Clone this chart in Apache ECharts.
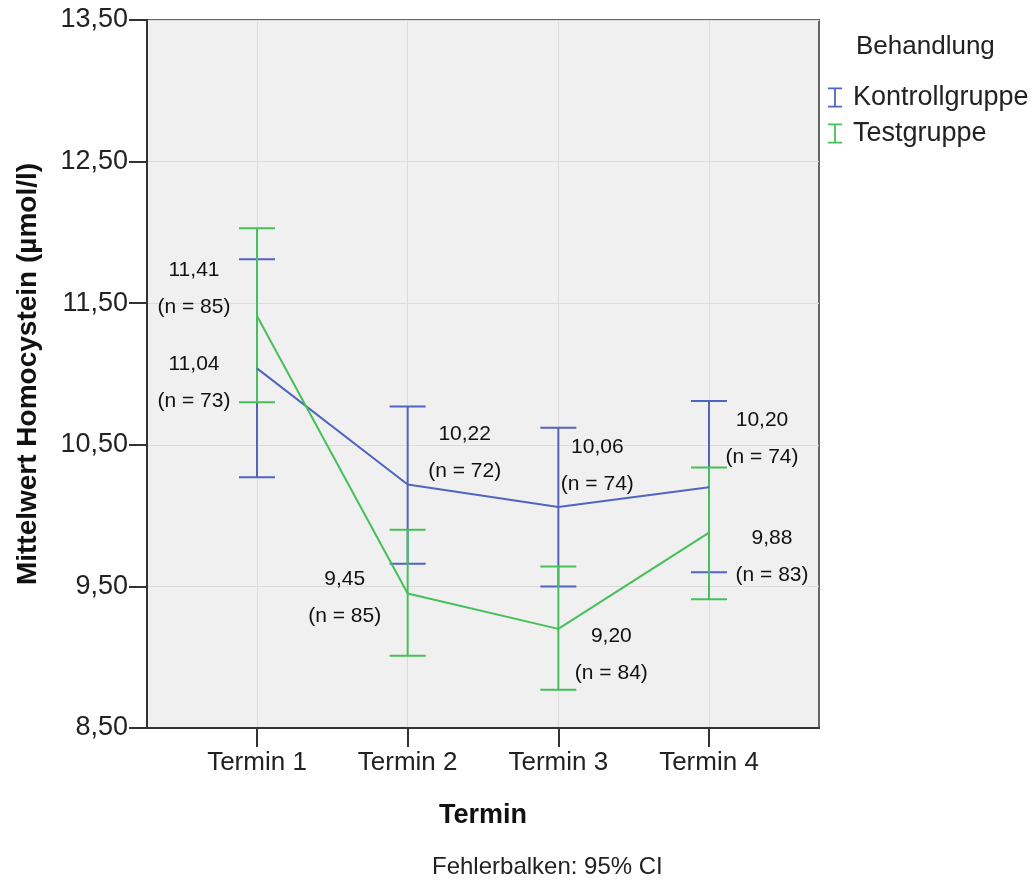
<!DOCTYPE html>
<html>
<head>
<meta charset="utf-8">
<script src="https://cdn.jsdelivr.net/npm/echarts@6/dist/echarts.min.js"></script>
<style>
  html, body { margin: 0; padding: 0; background: #ffffff; }
  #chart { width: 1035px; height: 881px; }
</style>
</head>
<body>
<div id="chart"></div>
<script>
const categories = ['Termin 1', 'Termin 2', 'Termin 3', 'Termin 4']
const categoryPos = [1, 2, 3, 4]

// Mittelwerte und 95%-KI
const kontrollMean = [11.04, 10.22, 10.06, 10.20]
const kontrollLow = [10.27, 9.66, 9.50, 9.60]
const kontrollHigh = [11.81, 10.77, 10.62, 10.81]
const kontrollN = [73, 72, 74, 74]

const testMean = [11.41, 9.45, 9.20, 9.88]
const testLow = [10.80, 9.01, 8.77, 9.41]
const testHigh = [12.03, 9.90, 9.64, 10.34]
const testN = [85, 85, 84, 83]

const yMin = 8.5
const yMax = 13.5
const yInterval = 1

// label placement relative to the mean point (px)
const kontrollLabelOffset = [[-63, 14], [57, -32], [39, -41], [53, -49]]
const testLabelOffset = [[-63, -27], [-63, 4], [53, 26], [63, 24]]

const BLUE = '#5065bd'
const GREEN = '#45c05a'
const FONT = '"Liberation Sans", Arial, sans-serif'
const barIcon = 'path://M0,0H14V1.8H0Z M6.1,0H7.9V20H6.1Z M0,18.2H14V20H0Z'

const fmt = v => v.toFixed(2).replace('.', ',')

function errorBarSeries(name, color, low, high) {
  return {
    name: name,
    type: 'custom',
    z: 3,
    color: color,
    itemStyle: { color: color },
    data: categoryPos.map((x, i) => [x, low[i], high[i]]),
    renderItem: function (params, api) {
      const top = api.coord([api.value(0), api.value(2)])
      const bottom = api.coord([api.value(0), api.value(1)])
      const half = 18
      const style = { stroke: color, lineWidth: 2 }
      return {
        type: 'group',
        children: [
          { type: 'line', shape: { x1: top[0], y1: top[1], x2: bottom[0], y2: bottom[1] }, style: style },
          { type: 'line', shape: { x1: top[0] - half, y1: top[1], x2: top[0] + half, y2: top[1] }, style: style },
          { type: 'line', shape: { x1: bottom[0] - half, y1: bottom[1], x2: bottom[0] + half, y2: bottom[1] }, style: style }
        ]
      }
    }
  }
}

function meanSeries(name, color, mean, n, offsets) {
  return {
    name: name,
    type: 'line',
    z: 4,
    color: color,
    symbol: 'circle',
    symbolSize: 1,
    lineStyle: { color: color, width: 2 },
    itemStyle: { color: color },
    data: categoryPos.map((x, i) => ({
      value: [x, mean[i]],
      label: { offset: offsets[i] }
    })),
    label: {
      show: true,
      position: 'inside',
      align: 'center',
      verticalAlign: 'middle',
      fontFamily: FONT,
      fontSize: 21,
      lineHeight: 37,
      color: '#111',
      formatter: p => fmt(mean[p.dataIndex]) + '\n(n = ' + n[p.dataIndex] + ')'
    },
    emphasis: { disabled: true }
  }
}

const chart = echarts.init(document.getElementById('chart'), null, { renderer: 'canvas' })

chart.setOption({
  animation: false,
  backgroundColor: '#ffffff',
  title: [
    {
      text: 'Behandlung',
      left: 856,
      top: 34,
      padding: 0,
      textStyle: { fontFamily: FONT, fontSize: 26, fontWeight: 'normal', color: '#222' }
    },
    {
      text: 'Fehlerbalken: 95% CI',
      left: 432,
      top: 855,
      padding: 0,
      textStyle: { fontFamily: FONT, fontSize: 24, fontWeight: 'normal', color: '#222' }
    }
  ],
  legend: {
    orient: 'vertical',
    left: 828,
    top: 84,
    padding: 0,
    itemWidth: 14,
    itemHeight: 20,
    itemGap: 9,
    selectedMode: false,
    itemStyle: { borderWidth: 0 },
    textStyle: { fontFamily: FONT, fontSize: 27, color: '#222', padding: [0, 0, 0, 6] },
    data: [
      { name: 'Kontrollgruppe', icon: barIcon, itemStyle: { color: BLUE } },
      { name: 'Testgruppe', icon: barIcon, itemStyle: { color: GREEN } }
    ]
  },
  grid: {
    left: 147,
    right: 216,
    top: 20,
    bottom: 153,
    show: true,
    backgroundColor: '#f0f0f0',
    borderColor: '#666',
    borderWidth: 2
  },
  xAxis: {
    type: 'value',
    min: 0.27,
    max: 4.73,
    name: 'Termin',
    nameLocation: 'middle',
    nameGap: 74,
    nameTextStyle: { fontFamily: FONT, fontSize: 27, fontWeight: 'bold', color: '#111' },
    axisLine: { show: true, lineStyle: { color: '#333', width: 2 } },
    axisTick: { show: true, customValues: categoryPos, length: 19, lineStyle: { color: '#333', width: 2 } },
    axisLabel: {
      customValues: categoryPos,
      margin: 22,
      fontFamily: FONT,
      fontSize: 26,
      color: '#222',
      formatter: v => categories[Math.round(v) - 1]
    },
    splitLine: { show: true, lineStyle: { color: '#dcdcdc', width: 1 } }
  },
  yAxis: {
    type: 'value',
    min: yMin,
    max: yMax,
    interval: yInterval,
    name: 'Mittelwert Homocystein (µmol/l)',
    nameLocation: 'middle',
    nameGap: 105,
    nameTextStyle: { fontFamily: FONT, fontSize: 28, fontWeight: 'bold', color: '#111' },
    axisLine: { show: true, lineStyle: { color: '#333', width: 2 } },
    axisTick: { show: true, length: 18, lineStyle: { color: '#333', width: 2 } },
    axisLabel: {
      margin: 19,
      padding: [7, 0, 0, 0],
      fontFamily: FONT,
      fontSize: 27,
      color: '#222',
      formatter: v => fmt(v)
    },
    splitLine: { show: true, lineStyle: { color: '#dcdcdc', width: 1 } }
  },
  series: [
    errorBarSeries('Kontrollgruppe', BLUE, kontrollLow, kontrollHigh),
    errorBarSeries('Testgruppe', GREEN, testLow, testHigh),
    meanSeries('Kontrollgruppe', BLUE, kontrollMean, kontrollN, kontrollLabelOffset),
    meanSeries('Testgruppe', GREEN, testMean, testN, testLabelOffset)
  ]
})
</script>
</body>
</html>
